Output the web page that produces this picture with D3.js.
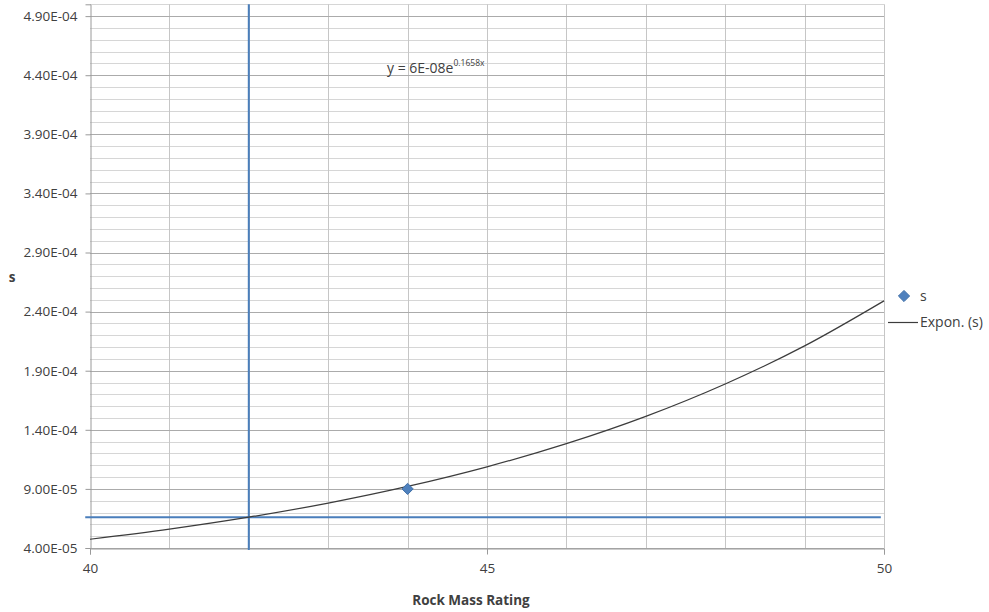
<!DOCTYPE html>
<html>
<head>
<meta charset="utf-8">
<script src="https://cdn.jsdelivr.net/npm/d3@7"></script>
<style>
  body { margin: 0; background: #fff; }
  text { font-family: "Open Sans", sans-serif; fill: #404040; }
</style>
</head>
<body>
<script>
// observed point
const pointX = [44];
const pointS = [9.0e-5];

// exponential trendline at each integer RMR
const trendX = [40, 41, 42, 43, 44, 45, 46, 47, 48, 49, 50];
const trendS = [4.74e-5, 5.60e-5, 6.61e-5, 7.80e-5, 9.21e-5, 1.087e-4, 1.283e-4, 1.514e-4, 1.788e-4, 2.110e-4, 2.491e-4];

// cut-off lines drawn on the chart
const cutRMR = [42];
const cutS = [6.61e-5];

const xTicks = [40, 45, 50];
const yTicks = [4e-5, 9e-5, 1.4e-4, 1.9e-4, 2.4e-4, 2.9e-4, 3.4e-4, 3.9e-4, 4.4e-4, 4.9e-4];
const yTickLabels = ["4.00E-05", "9.00E-05", "1.40E-04", "1.90E-04", "2.40E-04", "2.90E-04", "3.40E-04", "3.90E-04", "4.40E-04", "4.90E-04"];

const width = 989, height = 612;
const svg = d3.select("body").append("svg")
    .attr("width", width)
    .attr("height", height);

const x = d3.scaleLinear().domain([40, 50]).range([90, 884]);
const y = d3.scaleLinear().domain([4e-5, 5e-4]).range([548, 4.3]);

// minor horizontal grid (every 1E-05)
const minorY = d3.range(47).map(i => 4e-5 + i * 1e-5);
svg.append("g").selectAll("line")
    .data(minorY)
    .enter().append("line")
    .attr("x1", x(40)).attr("x2", x(50))
    .attr("y1", d => Math.round(y(d)) + 0.5)
    .attr("y2", d => Math.round(y(d)) + 0.5)
    .attr("stroke", "#d6d6d6");

// vertical grid (every 1)
svg.append("g").selectAll("line")
    .data(d3.range(41, 51))
    .enter().append("line")
    .attr("x1", d => Math.round(x(d)) + 0.5)
    .attr("x2", d => Math.round(x(d)) + 0.5)
    .attr("y1", y(5e-4)).attr("y2", y(4e-5))
    .attr("stroke", "#c6c6c6");

// major horizontal grid
svg.append("g").selectAll("line")
    .data(yTicks)
    .enter().append("line")
    .attr("x1", x(40)).attr("x2", x(50))
    .attr("y1", d => Math.round(y(d)) + 0.5)
    .attr("y2", d => Math.round(y(d)) + 0.5)
    .attr("stroke", "#ababab");

// axes
const yAxis = svg.append("g")
    .attr("transform", `translate(${x(40) + 0.5},0)`)
    .call(d3.axisLeft(y)
        .tickValues(yTicks)
        .tickSize(5)
        .tickPadding(8)
        .tickFormat((d, i) => yTickLabels[i]));

const xAxis = svg.append("g")
    .attr("transform", `translate(0,${Math.round(y(4e-5)) + 0.5})`)
    .call(d3.axisBottom(x)
        .tickValues(xTicks)
        .tickSize(6)
        .tickPadding(9)
        .tickFormat(d3.format("d")));

[yAxis, xAxis].forEach(a => {
    a.selectAll("path, line").attr("stroke", "#9a9a9a");
    a.selectAll("text").style("font-size", "13.5px").attr("fill", "#404040");
});

// cut-off lines
svg.append("line")
    .attr("x1", x(cutRMR[0])).attr("x2", x(cutRMR[0]))
    .attr("y1", y(5e-4)).attr("y2", y(4e-5) + 2)
    .attr("stroke", "#4a7ebb").attr("stroke-width", 2);

svg.append("line")
    .attr("x1", x(39.94)).attr("x2", x(49.96))
    .attr("y1", y(cutS[0])).attr("y2", y(cutS[0]))
    .attr("stroke", "#4a7ebb").attr("stroke-width", 2);

// trendline
const line = d3.line()
    .x((d, i) => x(trendX[i]))
    .y(d => y(d))
    .curve(d3.curveMonotoneX);

svg.append("path")
    .datum(trendS)
    .attr("d", line)
    .attr("fill", "none")
    .attr("stroke", "#3c3c3c")
    .attr("stroke-width", 1.2);

// data point
const diamond = d3.symbol().type(d3.symbolDiamond2).size(80);
svg.selectAll(".pt")
    .data(pointS)
    .enter().append("path")
    .attr("class", "pt")
    .attr("d", diamond)
    .attr("transform", (d, i) => `translate(${x(pointX[i])},${y(d)})`)
    .attr("fill", "#4f81bd")
    .attr("stroke", "#3f6fa8");

// equation label
const eq = svg.append("text")
    .attr("x", 387).attr("y", 73)
    .style("font-size", "14px");
eq.append("tspan").text("y = 6E-08e");
eq.append("tspan").attr("dy", -7).style("font-size", "8.5px").text("0.1658x");

// axis titles
svg.append("text")
    .attr("x", 471).attr("y", 605)
    .attr("text-anchor", "middle")
    .style("font-size", "13.5px").style("font-weight", "bold")
    .attr("fill", "#262626")
    .text("Rock Mass Rating");

svg.append("text")
    .attr("x", 12).attr("y", 282)
    .attr("text-anchor", "middle")
    .style("font-size", "13.5px").style("font-weight", "bold")
    .attr("fill", "#262626")
    .text("s");

// legend
const legend = svg.append("g");
legend.append("path")
    .attr("d", diamond)
    .attr("transform", "translate(904,296)")
    .attr("fill", "#4f81bd")
    .attr("stroke", "#3f6fa8");
legend.append("text")
    .attr("x", 920).attr("y", 301)
    .style("font-size", "14px")
    .text("s");
legend.append("line")
    .attr("x1", 888).attr("x2", 918)
    .attr("y1", 322.5).attr("y2", 322.5)
    .attr("stroke", "#3c3c3c").attr("stroke-width", 1.2);
legend.append("text")
    .attr("x", 920).attr("y", 327)
    .style("font-size", "14px")
    .text("Expon. (s)");
</script>
</body>
</html>
